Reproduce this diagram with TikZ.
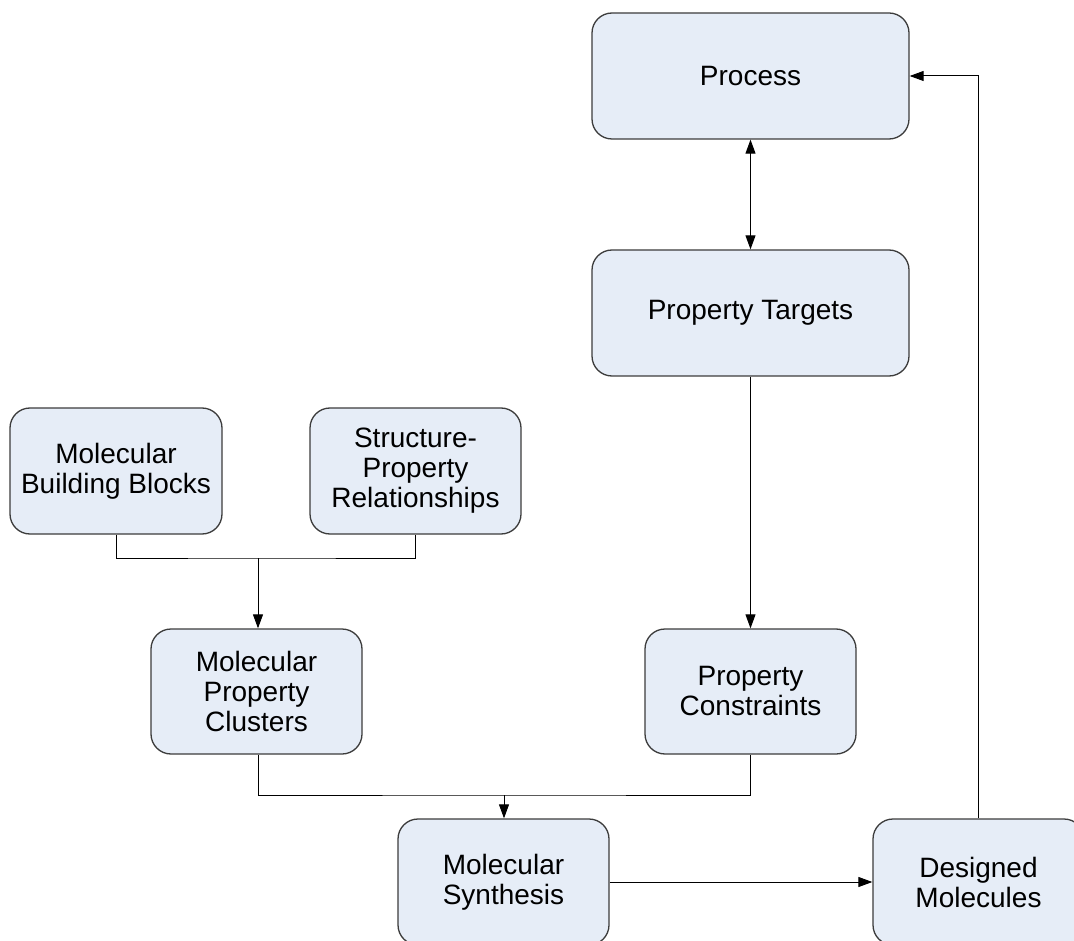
\documentclass[tikz,border=0pt]{standalone}
\usepackage{fontspec}
\setmainfont{Liberation Sans}
\usetikzlibrary{arrows.meta}
\definecolor{boxfill}{HTML}{E6EDF7}
\definecolor{boxline}{HTML}{3C3C3C}
\tikzset{
  block/.style={draw=boxline, line width=1.3pt, fill=boxfill, rounded corners=20pt,
    align=center, inner sep=0pt, font=\fontsize{28}{30}\selectfont},
  conn/.style={draw=black, line width=1pt},
  arr/.style={conn, -{Triangle[length=14pt,width=10pt]}},
  darr/.style={conn, {Triangle[length=14pt,width=10pt]}-{Triangle[length=14pt,width=10pt]}},
}
\begin{document}
\begin{tikzpicture}[x=1pt, y=-1pt]
  \useasboundingbox (0,0) rectangle (1074,941);
  \clip (0,0) rectangle (1074,941);

  % blocks
  \node[block, minimum width=317pt, minimum height=126pt] (proc) at (750.5,76) {Process};
  \node[block, minimum width=317pt, minimum height=126pt] (targ) at (750.5,313) {Property Targets};
  \node[block, minimum width=212pt, minimum height=126pt] (mbb) at (116,471) {Molecular\\Building Blocks};
  \node[block, minimum width=211pt, minimum height=126pt] (spr) at (415.5,471) {Structure-\\Property\\Relationships};
  \node[block, minimum width=211pt, minimum height=125pt] (mpc) at (256.5,691.5) {Molecular\\Property\\Clusters};
  \node[block, minimum width=211pt, minimum height=125pt] (pcon) at (750.5,691.5) {Property\\Constraints};
  \node[block, minimum width=211pt, minimum height=126pt] (msyn) at (503.5,882) {Molecular\\Synthesis};
  \node[block, minimum width=211pt, minimum height=126pt] (dmol) at (978.5,882) {Designed\\Molecules};

  % junction points
  \coordinate (j1) at (258,558);
  \coordinate (j2) at (504,795);

  % connectors
  \draw[darr] (proc.south) -- (targ.north);
  \draw[arr] (targ.south) -- (pcon.north);

  \draw[conn] (mbb.south) |- (j1) -| (spr.south);
  \draw[arr] (j1) -- (j1 |- mpc.north);

  \draw[conn] (mpc.south -| j1) |- (j2) -| (pcon.south);
  \draw[arr] (j2) -- (j2 |- msyn.north);

  \draw[arr] (msyn.east) -- (dmol.west);
  \draw[arr] (dmol.north) |- (proc.east);
\end{tikzpicture}
\end{document}
